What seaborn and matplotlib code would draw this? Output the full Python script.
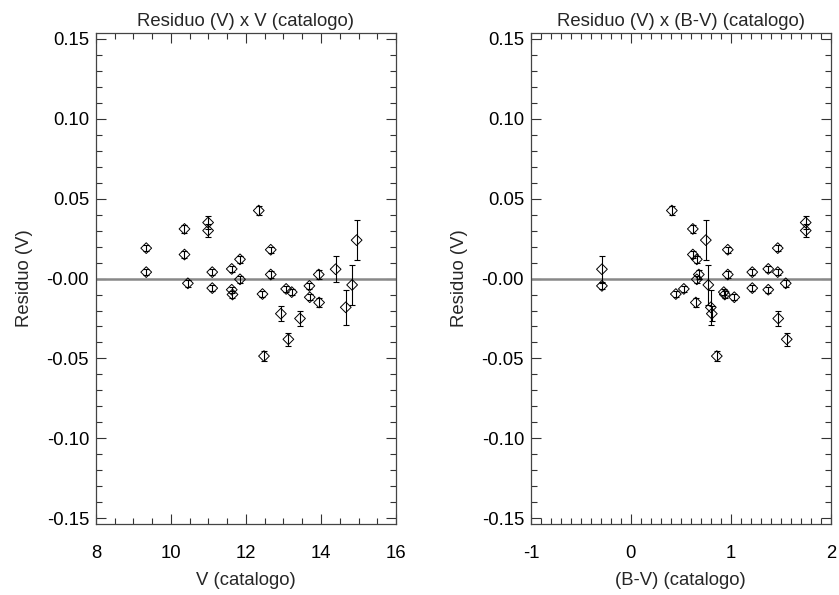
import numpy as np
import pandas as pd
import seaborn as sns
import matplotlib.pyplot as plt
from matplotlib.ticker import MultipleLocator

# values
v_cat = [9.34, 9.34, 10.36, 10.36, 10.45, 10.99, 10.99, 11.10, 11.10, 11.62, 11.62, 11.64,
         11.84, 11.84, 12.34, 12.44, 12.48, 12.66, 12.66, 12.93, 13.07, 13.13, 13.22, 13.44,
         13.69, 13.70, 13.94, 13.95, 14.39, 14.66, 14.83, 14.95]
bv_cat = [1.47, 1.47, 0.62, 0.62, 1.55, 1.75, 1.75, 1.215, 1.215, 1.375, 1.375, 0.94,
          0.66, 0.66, 0.41, 0.45, 0.86, 0.97, 0.97, 0.81, 0.53, 1.56, 0.93, 1.475,
          -0.29, 1.035, 0.68, 0.65, -0.29, 0.80, 0.775, 0.75]
residuo = [0.019, 0.004, 0.031, 0.015, -0.003, 0.035, 0.030, 0.004, -0.006, 0.006, -0.007, -0.010,
           0.012, -0.0005, 0.0425, -0.0097, -0.0485, 0.018, 0.0025, -0.022, -0.0065, -0.038, -0.0085, -0.025,
           -0.0046, -0.0117, 0.0025, -0.015, 0.0058, -0.018, -0.004, 0.024]
erro = [0.002, 0.002, 0.0023, 0.0023, 0.002, 0.004, 0.004, 0.002, 0.002, 0.002, 0.002, 0.002,
        0.002, 0.002, 0.003, 0.002, 0.0032, 0.002, 0.002, 0.0046, 0.002, 0.004, 0.002, 0.0048,
        0.002, 0.002, 0.003, 0.003, 0.0082, 0.011, 0.0125, 0.0125]

ytick_vals = [-0.15, -0.10, -0.05, 0.0, 0.05, 0.10, 0.15]
ytick_labels = ["-0.15", "-0.10", "-0.05", "-0.00", "0.05", "0.10", "0.15"]

df = pd.DataFrame({"V": v_cat, "BV": bv_cat, "res": residuo, "err": erro})

sns.set_style("ticks")
plt.rcParams['font.family'] = ['Liberation Sans', 'DejaVu Sans']
plt.rcParams['axes.unicode_minus'] = False
fs = 13.3

fig = plt.figure(figsize=(8.39, 5.95), dpi=100)
ax1 = fig.add_axes([0.1144, 0.1193, 0.3576, 0.8252])
ax2 = fig.add_axes([0.6329, 0.1193, 0.3572, 0.8252])

panels = [
    (ax1, "V", "Residuo (V) x V (catalogo)", "V (catalogo)", (8, 16), 2, 0.5),
    (ax2, "BV", "Residuo (V) x (B-V) (catalogo)", "(B-V) (catalogo)", (-1, 2), 1, 0.1),
]

for ax, col, title, xlabel, xlim, major, minor in panels:
    ax.axhline(0, color="#888888", lw=1.8, zorder=1)
    sns.scatterplot(data=df, x=col, y="res", ax=ax, marker="D", s=30,
                    fc="none", ec="black", linewidth=0.7, zorder=2)
    ax.errorbar(df[col], df["res"], yerr=df["err"], fmt="none", ecolor="black",
                elinewidth=0.8, capsize=2, capthick=0.8, zorder=3)
    ax.set_xlim(*xlim)
    ax.set_ylim(-0.1535, 0.1535)
    ax.xaxis.set_major_locator(MultipleLocator(major))
    ax.xaxis.set_minor_locator(MultipleLocator(minor))
    ax.set_yticks(ytick_vals)
    ax.set_yticklabels(ytick_labels)
    ax.yaxis.set_minor_locator(MultipleLocator(0.01))
    ax.tick_params(which="both", direction="in", top=True, right=True, colors="#333333",
                   labelcolor="black", labelsize=fs)
    ax.tick_params(axis="x", which="both", pad=15)
    ax.tick_params(axis="y", which="both", pad=5)
    ax.tick_params(which="major", length=7, width=0.8)
    ax.tick_params(which="minor", length=4, width=0.8)
    for sp in ax.spines.values():
        sp.set_color("#444444")
        sp.set_linewidth(0.9)
    ax.set_title(title, fontsize=fs, pad=5)
    ax.set_xlabel(xlabel, fontsize=fs, labelpad=7)
    ax.set_ylabel("Residuo (V)", fontsize=fs, labelpad=10)

fig.savefig("out.png", dpi=100)
